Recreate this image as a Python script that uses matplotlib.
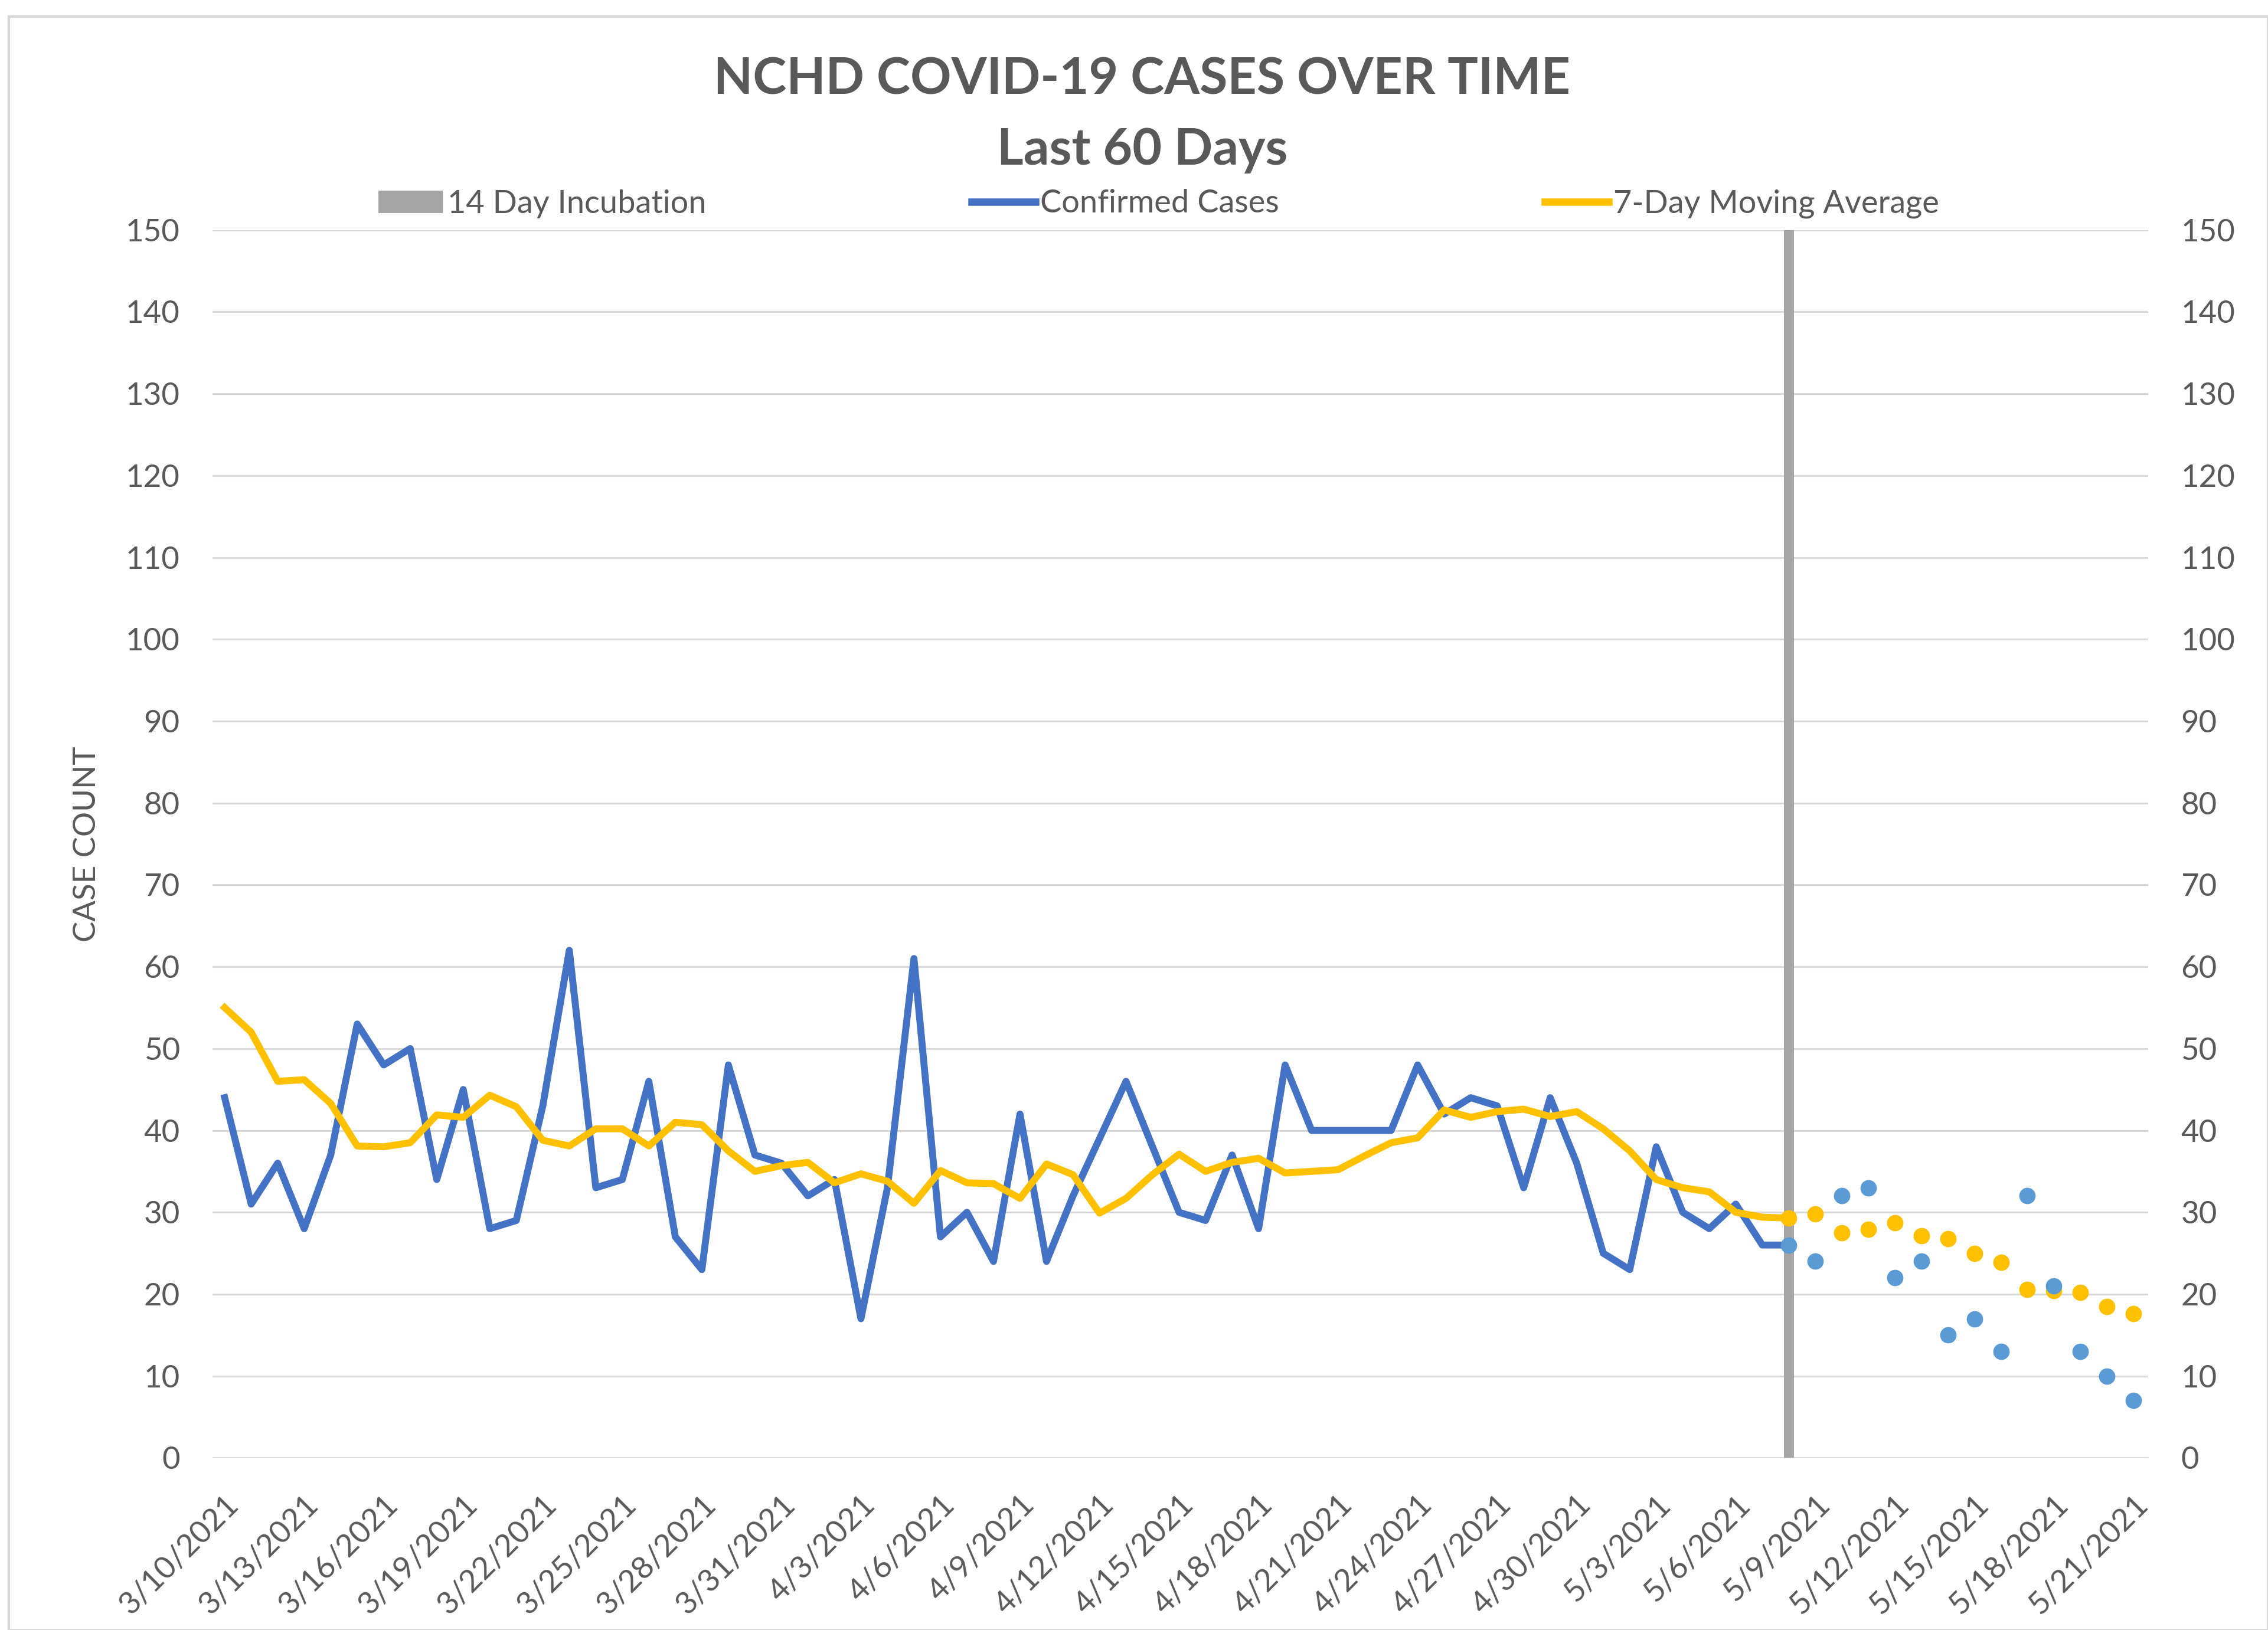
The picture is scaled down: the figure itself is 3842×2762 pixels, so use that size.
import numpy as np
import pandas as pd
import matplotlib
matplotlib.use('Agg')
import matplotlib.pyplot as plt
from matplotlib.lines import Line2D
from matplotlib.patches import Patch, Rectangle

plt.rcParams['font.family'] = ['Lato', 'DejaVu Sans']

# daily dates shown on the axis
dates = pd.date_range('2021-03-10', '2021-05-21', freq='D')

# confirmed cases 3/10 .. 5/8 (solid line)
confirmed = [44, 31, 36, 28, 37, 53, 48, 50, 34, 45,
             28, 29, 43, 62, 33, 34, 46, 27, 23, 48,
             37, 36, 32, 34, 17, 33, 61, 27, 30, 24,
             42, 24, 32, 39, 46, 38, 30, 29, 37, 28,
             48, 40, 40, 40, 40, 48, 42, 44, 43, 33,
             44, 36, 25, 23, 38, 30, 28, 31, 26, 26]
# confirmed cases 5/8 .. 5/21 (incubation window, dots)
confirmed_recent = [26, 24, 32, 33, 22, 24, 15, 17, 13, 32, 21, 13, 10, 7]

# 7-day moving average 3/10 .. 5/8
avg7 = [55, 52, 46, 46.2, 43.3, 38.1, 38, 38.5, 41.9, 41.6,
        44.3, 42.9, 38.8, 38.1, 40.2, 40.2, 38.1, 41, 40.7, 37.5,
        35, 35.7, 36.1, 33.6, 34.7, 33.8, 31.1, 35.1, 33.6, 33.5,
        31.7, 35.9, 34.6, 29.9, 31.7, 34.6, 37.1, 35, 36.1, 36.6,
        34.8, 35, 35.2, 36.9, 38.5, 39.1, 42.5, 41.6, 42.3, 42.6,
        41.7, 42.3, 40.2, 37.5, 34, 33, 32.5, 30, 29.4, 29.3]
avg7_recent = [29.3, 29.8, 27.5, 27.9, 28.7, 27.1, 26.8, 25.0, 23.9,
               20.6, 20.4, 20.2, 18.5, 17.6]

incubation_date = pd.Timestamp('2021-05-08')
incubation_height = 150

yticks = list(range(0, 151, 10))

BLUE = '#4472C4'
LIGHT_BLUE = '#5B9BD5'
GOLD = '#FFC000'
GRAY = '#A5A5A5'
TEXT = '#595959'

x = np.arange(len(dates))
n_line = len(confirmed)
x_line = x[:n_line]
x_dots = x[n_line - 1:]
x_inc = int((incubation_date - dates[0]).days)

fig = plt.figure(figsize=(38.42, 27.62), dpi=100)
ax = fig.add_axes([0.0938, 0.1056, 0.8533, 0.7533])

ax.set_axisbelow(True)
ax.yaxis.grid(True, color='#D9D9D9', linewidth=2.2)
ax.bar([x_inc], [incubation_height], width=0.38, color=GRAY, zorder=2)
ax.plot(x_line, confirmed, color=BLUE, linewidth=8.5, zorder=3)
ax.plot(x_line, avg7, color=GOLD, linewidth=8.5, zorder=3)
ax.plot(x_dots, avg7_recent, 'o', color=GOLD, markersize=20, markeredgewidth=0, zorder=4)
ax.plot(x_dots, confirmed_recent, 'o', color=LIGHT_BLUE, markersize=20, markeredgewidth=0, zorder=5)

ax.set_xlim(-0.45, len(dates) - 0.45)
ax.set_ylim(0, 150)
ax.set_yticks(yticks)
ax.tick_params(axis='y', length=0, labelsize=38, labelcolor=TEXT, pad=40,
               labelright=True, right=False)
tick_idx = x[::3]
ax.set_xticks(tick_idx)
ax.set_xticklabels([f'{d.month}/{d.day}/{d.year}' for d in dates[::3]],
                   rotation=45, ha='right', va='top', rotation_mode='anchor')
ax.tick_params(axis='x', length=0, labelsize=38, labelcolor=TEXT, pad=40)
for s in ax.spines.values():
    s.set_visible(False)

ax.set_ylabel('CASE COUNT', fontsize=38, color=TEXT, labelpad=30)

fig.text(0.5036, 0.951, 'NCHD COVID-19 CASES OVER TIME', ha='center', va='center',
         fontsize=62, fontweight='bold', color=TEXT)
fig.text(0.5036, 0.908, 'Last 60 Days', ha='center', va='center',
         fontsize=62, fontweight='bold', color=TEXT)

handles = [Patch(facecolor=GRAY, edgecolor='none'),
           Line2D([], [], color=BLUE, linewidth=9),
           Line2D([], [], color=GOLD, linewidth=9)]
labels = ['14 Day Incubation', 'Confirmed Cases', '7-Day Moving Average']
fig.legend(handles, labels, loc='center', bbox_to_anchor=(0.511, 0.875), ncol=3,
           frameon=False, fontsize=39, labelcolor=TEXT, columnspacing=8.3,
           handlelength=2.0, handletextpad=0.15)

fig.patches.append(Rectangle((0.004, 0.0), 0.996, 0.99, transform=fig.transFigure,
                             fill=False, edgecolor='#D9D9D9', linewidth=3))

fig.savefig('out.png', dpi=100, facecolor='white')
